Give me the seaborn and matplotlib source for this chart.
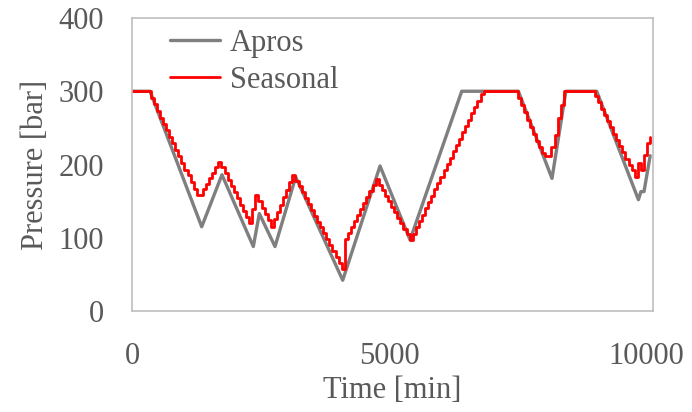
import matplotlib
matplotlib.use("Agg")
import matplotlib.pyplot as plt
import seaborn as sns
import pandas as pd

# Apros: piecewise-linear vertices (time [min], pressure [bar])
apros_time = [0, 350, 1356, 1750, 2360, 2477, 2782, 3184, 4099, 4825, 5409,
              6414, 7516, 8170, 8440, 9040, 9851, 9900, 9960, 10080]
apros_pressure = [300, 300, 115, 186, 88, 133, 88, 183, 42, 198, 97,
                  300, 300, 181, 300, 300, 152, 163, 163, 212]

# Seasonal: hourly step values (hour 0 .. 167), plus final value at 10080 min
seasonal_hourly = [
    300, 300, 300, 300, 300, 300,
    291, 282, 273, 264, 255, 247, 238, 229, 220, 211, 202, 193, 185, 176, 167, 158,
    158,
    166, 174, 181, 189, 196, 204,
    196, 188, 179, 171, 162, 154, 145, 137, 128, 120,
    139, 158,
    150, 141, 132, 124, 115,
    125, 135, 145, 155, 165, 176, 186,
    178, 170, 162, 154, 146, 138, 130, 122, 114, 106, 98, 90, 82, 74, 66, 58,
    98, 106, 114, 123, 131, 139, 147, 155, 164, 172, 180,
    172, 165, 157, 150, 142, 135, 127, 120, 112, 105, 97,
    105, 114, 123, 131, 140, 149, 157, 166, 175, 183, 192, 201, 209, 218, 227,
    235, 244, 253, 261, 270, 279, 287, 296,
    300, 300, 300, 300, 300, 300, 300, 300, 300, 300, 300,
    291, 281, 271, 261, 251, 242, 232, 224, 216, 211, 211,
    224, 240, 263, 281,
    300, 300, 300, 300, 300, 300, 300, 300, 300, 300,
    293, 285, 276, 268, 259, 251, 242, 234, 225, 217, 208, 200, 193, 183,
    202, 192, 213, 229,
]
seasonal_end_time = 10080
seasonal_end_value = 238

x_ticks = [0, 5000, 10000]
y_ticks = [0, 100, 200, 300, 400]

seasonal_time = [60 * h for h in range(len(seasonal_hourly))] + [seasonal_end_time]
seasonal_pressure = seasonal_hourly + [seasonal_end_value]

df_a = pd.DataFrame({"t": apros_time, "p": apros_pressure})
df_s = pd.DataFrame({"t": seasonal_time, "p": seasonal_pressure})

sns.set_theme(style="white")
plt.rcParams["font.family"] = ["Liberation Serif", "DejaVu Serif"]

fig = plt.figure(figsize=(6.92, 4.12), dpi=100)
ax = fig.add_axes([132 / 692, 101 / 412, 521 / 692, 293 / 412])

sns.lineplot(data=df_a, x="t", y="p", ax=ax, color="#7F7F7F", linewidth=2.4,
             estimator=None, sort=False, label="Apros")
sns.lineplot(data=df_s, x="t", y="p", ax=ax, color="#FF0000", linewidth=2.0,
             estimator=None, sort=False, drawstyle="steps-post", label="Seasonal")

ax.set_xlim(0, 10135)
ax.set_ylim(0, 400)
ax.set_xticks(x_ticks)
ax.set_yticks(y_ticks)
ax.set_xlabel("Time [min]", fontsize=22, color="#595959", labelpad=4)
ax.set_ylabel("Pressure [bar]", fontsize=22, color="#595959", labelpad=6)
ax.tick_params(axis="both", direction="in", length=5, width=1, color="#BFBFBF",
               labelsize=22, labelcolor="#595959")
ax.tick_params(axis="y", pad=20)
ax.tick_params(axis="x", pad=22)
for s in ax.spines.values():
    s.set_visible(True)
    s.set_color("#BFBFBF")
    s.set_linewidth(1.2)

leg = ax.legend(loc="center left", bbox_to_anchor=(0.073, 0.85), frameon=False,
                fontsize=22, handlelength=1.65, handletextpad=0.3,
                labelspacing=0.25, borderaxespad=0, borderpad=0)
for t in leg.get_texts():
    t.set_color("#595959")

fig.savefig("out.png", dpi=100)
